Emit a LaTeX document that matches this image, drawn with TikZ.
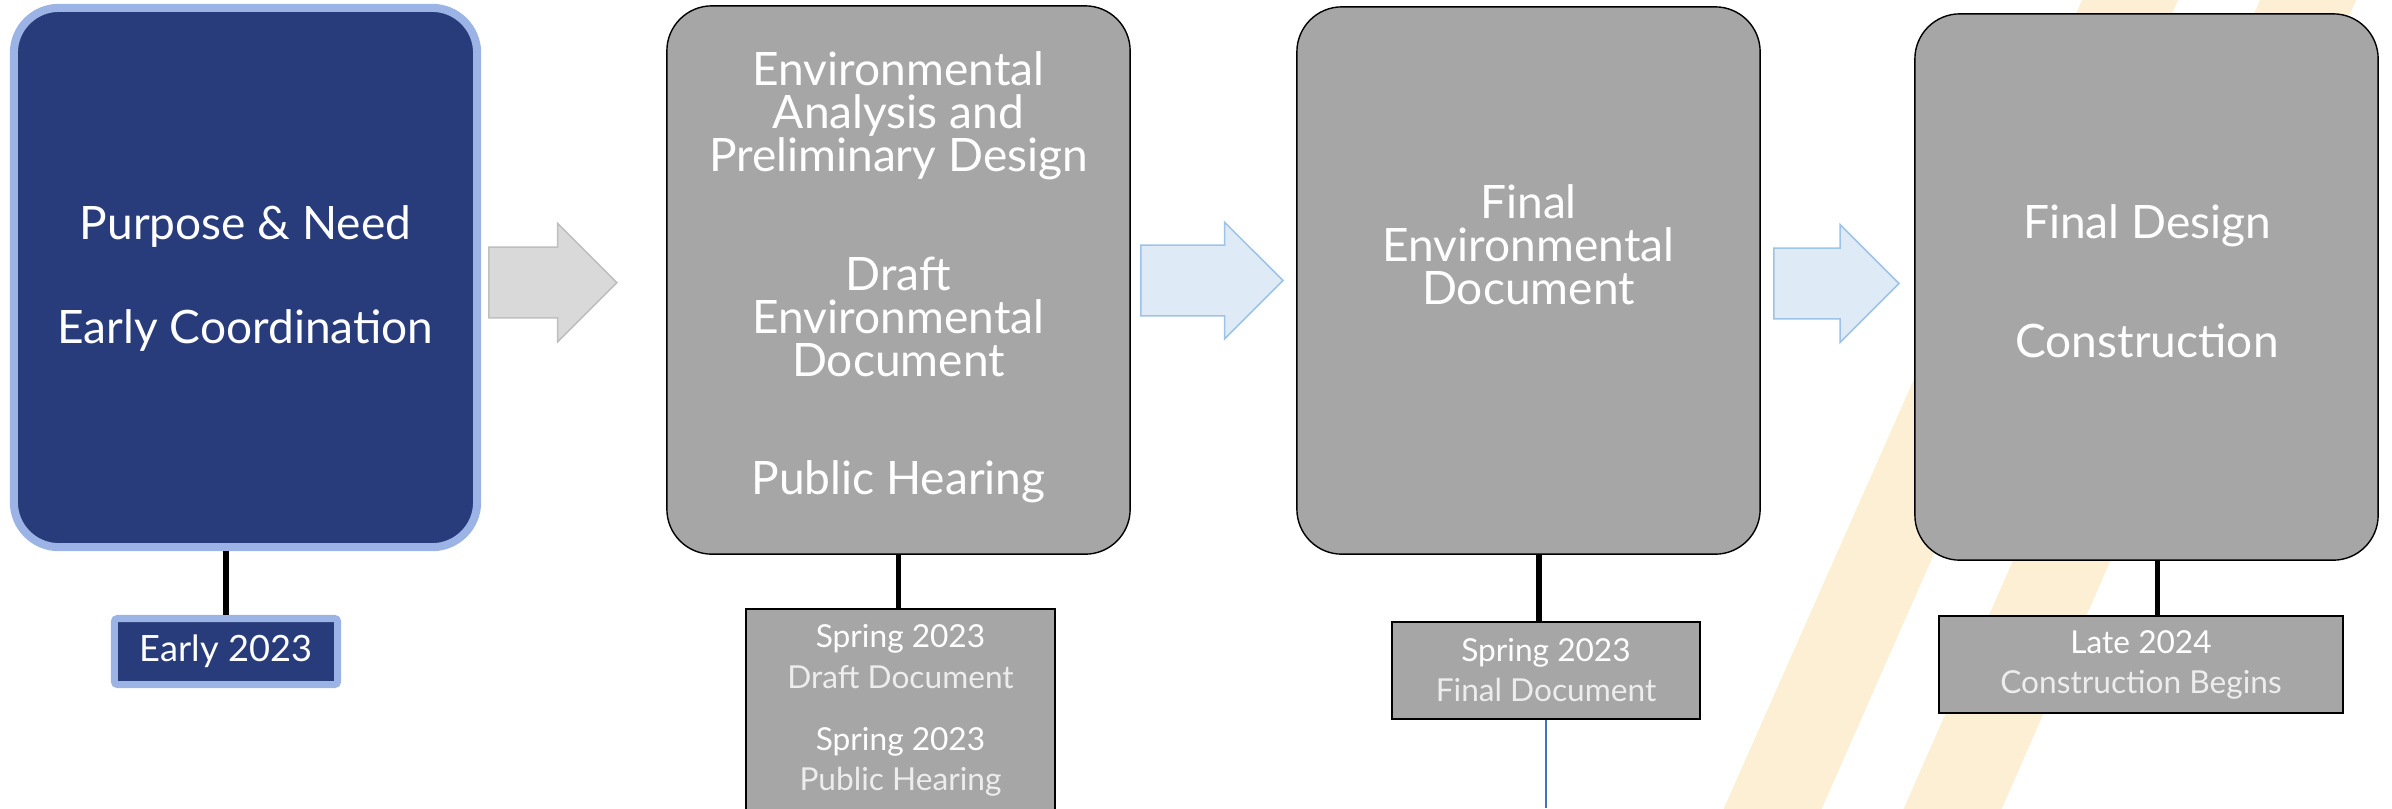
\documentclass[tikz,border=0pt]{standalone}
\usepackage{fontspec}
\setmainfont{Lato}
\usepackage{tikz}
\usetikzlibrary{shapes.arrows}
\definecolor{navy}{HTML}{283B7B}
\definecolor{paleblue}{HTML}{9CB4E5}
\definecolor{boxgray}{HTML}{A6A6A6}
\definecolor{arrowgray}{HTML}{D9D9D9}
\definecolor{arrowgrayline}{HTML}{BFBFBF}
\definecolor{arrowblue}{HTML}{DEEAF6}
\definecolor{arrowblueline}{HTML}{9DC3E6}
\definecolor{stripeyellow}{HTML}{FCEFD3}
\definecolor{subtext}{HTML}{EDEDED}
\definecolor{lineblue}{HTML}{4472C4}
\setlength{\lineskiplimit}{-20pt}

\begin{document}
\begin{tikzpicture}[x=0.01cm,y=-0.01cm,
    stagebox/.style={draw=black,line width=0.4pt,fill=boxgray,
      rounded corners=0.45cm,minimum width=4.63cm,inner sep=0pt},
    stagetext/.style={text=white,align=center,inner sep=0pt,anchor=north,
      font=\fontsize{13.1}{12.2}\selectfont},
    datebox/.style={draw=black,line width=0.75pt,fill=boxgray,inner sep=0pt,
      align=center,text=white,font=\fontsize{9}{11.4}\selectfont},
    grayarrow/.style={single arrow,draw=arrowgrayline,fill=arrowgray,line width=0.45pt,
      single arrow tip angle=90,inner sep=0pt,text height=0.69cm,text depth=0pt,anchor=tail},
    bluearrow/.style={grayarrow,draw=arrowblueline,fill=arrowblue},
    stem/.style={line width=1.45pt,black}]
  \useasboundingbox (0,0) rectangle (2392,808);
  \clip (0,0) rectangle (2392,808);

  % background stripes
  \fill[stripeyellow] (1714.3,830) -- (1812.3,830) -- (2186.8,-20) -- (2090.9,-20) -- cycle;
  \fill[stripeyellow] (1894.3,830) -- (1992.4,830) -- (2364.8,-20) -- (2268.8,-20) -- cycle;

  % stages
  \node[stagebox,draw=paleblue,fill=navy,line width=2.3pt,minimum height=5.39cm] (s1) at (245.5,277.5) {};
  \node[stagebox,minimum height=5.48cm] (s2) at (898.5,280) {};
  \node[stagebox,minimum height=5.47cm] (s3) at (1528.5,280.5) {};
  \node[stagebox,minimum height=5.46cm] (s4) at (2146.5,287) {};

  \node[stagetext] (t1) at (245.5,205) {Purpose \& Need\\[17.4pt]Early Coordination};
  \node[stagetext] (t2) at (898.5,51) {Environmental\\Analysis and\\Preliminary Design\\[21.6pt]
    Draft\\Environmental\\Document\\[21.6pt]Public Hearing};
  \node[stagetext] (t3) at (1528.5,184) {Final\\Environmental\\Document};
  \node[stagetext] (t4) at (2147,204) {Final Design\\[21.6pt]Construction};

  % arrows between stages
  \node[grayarrow,minimum height=1.28cm,single arrow head extend=0.24cm] (a1) at (488,282.5) {};
  \node[bluearrow,minimum height=1.42cm,single arrow head extend=0.23cm] (a2) at (1140,280.5) {};
  \node[bluearrow,minimum height=1.25cm,single arrow head extend=0.235cm] (a3) at (1773,283.5) {};

  % dates
  \node[datebox,draw=paleblue,fill=navy,line width=2pt,rounded corners=0.03cm,
    minimum width=2.23cm,minimum height=0.66cm,font=\fontsize{10.3}{12}\selectfont] (d1) at (226,651.5) {Early 2023};
  \node[datebox,minimum width=3.09cm,minimum height=2.03cm] (d2) at (900.5,710.5)
    {Spring 2023\\{\color{subtext}Draft Document}\\[6.3pt]Spring 2023\\{\color{subtext}Public Hearing}};
  \node[datebox,minimum width=3.08cm,minimum height=0.97cm] (d3) at (1546,670.5)
    {Spring 2023\\{\color{subtext}Final Document}};
  \node[datebox,minimum width=4.04cm,minimum height=0.97cm] (d4) at (2141,664.5)
    {Late 2024\\{\color{subtext}Construction Begins}};

  \draw[stem] (d1.north) -- (d1.north |- s1.south);
  \draw[stem] (s2.south) -- (s2.south |- d2.north);
  \draw[stem] ([xshift=-0.07cm]d3.north) -- ([xshift=-0.07cm]d3.north |- s3.south);
  \draw[stem] ([xshift=0.16cm]d4.north) -- ([xshift=0.16cm]d4.north |- s4.south);

  \coordinate (d3end) at (1546,808);
  \draw[lineblue,line width=0.45pt] (d3.south) -- (d3end);
\end{tikzpicture}
\end{document}
